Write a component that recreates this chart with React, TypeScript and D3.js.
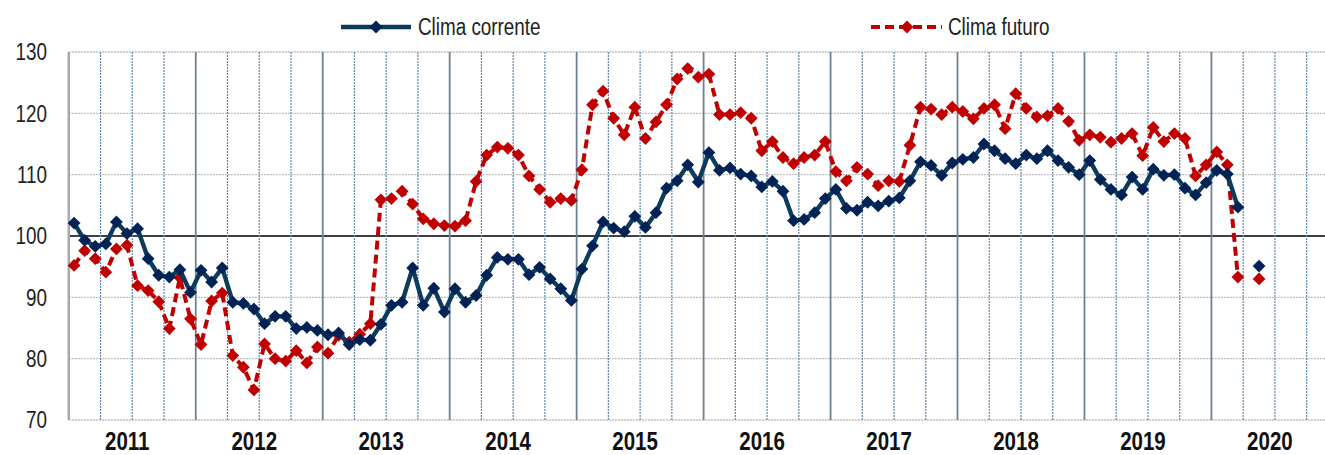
import React from "react";
import * as d3 from "d3";

const years = ["2011","2012","2013","2014","2015","2016","2017","2018","2019","2020"];
const yTicks = [70, 80, 90, 100, 110, 120, 130];
const seriesNames = ["Clima corrente", "Clima futuro"];

const climaCorrente: (number | null)[] = [
  102.1, 99.3, 98.3, 98.7, 102.3, 100.4, 101.2, 96.3, 93.6, 93.3, 94.5, 90.8,
  94.4, 92.5, 94.8, 89.2, 89.0, 88.1, 85.7, 86.9, 86.9, 84.9, 85.1, 84.6,
  83.9, 84.2, 82.3, 83.1, 83.0, 85.6, 88.7, 89.2, 94.8, 88.7, 91.5, 87.6,
  91.4, 89.2, 90.3, 93.6, 96.5, 96.2, 96.2, 93.7, 94.9, 93.0, 91.4, 89.5,
  94.6, 98.4, 102.3, 101.3, 100.7, 103.2, 101.4, 103.8, 107.8, 109.0, 111.6, 108.8,
  113.6, 110.7, 111.1, 110.1, 109.8, 108.0, 108.9, 107.3, 102.5, 102.7, 103.8, 106.1,
  107.6, 104.5, 104.2, 105.5, 104.9, 105.7, 106.2, 109.0, 112.1, 111.5, 109.9, 111.9,
  112.5, 112.8, 115.0, 113.9, 112.6, 111.8, 113.2, 112.6, 113.9, 112.3, 111.2, 110.0,
  112.3, 109.2, 107.6, 106.7, 109.6, 107.6, 110.9, 109.9, 110.0, 107.8, 106.7, 108.7,
  110.7, 110.1, 104.7, null, 95.1,
];

const climaFuturo: (number | null)[] = [
  95.2, 97.6, 96.3, 94.1, 97.9, 98.5, 91.9, 91.1, 89.3, 84.9, 93.2, 86.5,
  82.3, 89.4, 90.7, 80.5, 78.6, 74.9, 82.4, 80.0, 79.6, 81.3, 79.3, 81.9,
  80.9, 83.8, 82.7, 84.0, 85.7, 105.9, 106.1, 107.3, 105.2, 102.8, 102.0, 101.7,
  101.6, 102.5, 108.9, 113.2, 114.5, 114.3, 113.2, 109.8, 107.6, 105.5, 106.1, 105.8,
  110.8, 121.4, 123.6, 119.2, 116.5, 121.0, 115.9, 118.6, 121.4, 125.6, 127.3, 125.9,
  126.4, 119.8, 119.8, 120.1, 119.2, 113.9, 115.4, 112.8, 111.8, 112.8, 113.2, 115.4,
  110.5, 109.0, 111.2, 110.1, 108.2, 109.0, 108.9, 114.8, 121.0, 120.7, 119.8, 121.0,
  120.3, 119.1, 120.8, 121.4, 117.5, 123.2, 120.8, 119.4, 119.6, 120.8, 118.7, 115.6,
  116.5, 116.1, 115.3, 115.9, 116.7, 113.1, 117.7, 115.4, 116.7, 115.9, 109.8, 111.6,
  113.7, 111.6, 93.3, null, 93.0,
];

const W = 1325;
const H = 455;
const FONT = "'Liberation Sans', Arial, sans-serif";
const SX = 0.82; // narrow face look
const BLUE_LINE = "#0c3b5c";
const BLUE_MARK = "#002255";
const RED = "#c00000";

const diamond = (cx: number, cy: number, r: number) =>
  `M${cx},${cy - r}L${cx + r},${cy}L${cx},${cy + r}L${cx - r},${cy}Z`;

function NText(props: {
  x: number; y: number; anchor?: string; size: number; bold?: boolean; fill?: string; children: React.ReactNode;
}) {
  const { x, y, anchor = "start", size, bold, fill = "#222", children } = props;
  return (
    <text
      transform={`translate(${x},${y}) scale(${SX},1)`}
      textAnchor={anchor}
      fontFamily={FONT}
      fontSize={size}
      fontWeight={bold ? "bold" : "normal"}
      fill={fill}
    >
      {children}
    </text>
  );
}

export default function App() {
  const nMonths = years.length * 12;
  const x0 = 68.8;
  const monthW = 10.58;
  const x = d3.scaleLinear().domain([0, nMonths]).range([x0, x0 + nMonths * monthW]);
  const y = d3.scaleLinear().domain([70, 130]).range([420, 52]);
  const top = y(130);
  const bottom = y(70);

  const line = d3
    .line<number | null>()
    .defined((d) => d !== null)
    .x((_, i) => x(i + 0.5))
    .y((d) => y(d as number));

  const quarters = d3.range(0, nMonths / 3 + 1);

  const markers = (data: (number | null)[], fill: string) =>
    data.map((d, i) =>
      d === null ? null : <path key={i} d={diamond(x(i + 0.5), y(d), 6.4)} fill={fill} />
    );

  return (
    <svg width={W} height={H} style={{ position: "absolute", left: 0, top: 0, background: "#fff" }}>
      {/* horizontal grid */}
      {yTicks.map((t) => (
        <line
          key={"h" + t}
          x1={x0}
          x2={W}
          y1={y(t)}
          y2={y(t)}
          stroke={t === 100 ? "#000" : "#bcbcbc"}
          strokeWidth={t === 100 ? 1.6 : 1.3}
          strokeDasharray={t === 100 ? undefined : "2,1"}
        />
      ))}
      {/* vertical grid */}
      {quarters.map((q) => {
        const xx = x(q * 3);
        if (q === 0) return null;
        const isYear = q % 4 === 0;
        return (
          <line
            key={"v" + q}
            x1={xx}
            x2={xx}
            y1={top}
            y2={bottom}
            stroke={isYear ? "#6f8090" : "#5f87ab"}
            strokeWidth={isYear ? 1.8 : 1.2}
            strokeDasharray={isYear ? undefined : "2,1"}
          />
        );
      })}
      {/* left axis */}
      <line x1={x0} x2={x0} y1={top} y2={bottom} stroke="#a8a8a8" strokeWidth={2.5} />
      {/* y labels */}
      {yTicks.map((t) => (
        <NText key={"yl" + t} x={47} y={y(t) + 8.2} anchor="end" size={23}>
          {t}
        </NText>
      ))}
      {/* year labels */}
      {years.map((yr, i) => (
        <NText key={yr} x={x(i * 12 + 6) - 5} y={449.5} anchor="middle" size={25} bold fill="#111">
          {yr}
        </NText>
      ))}
      {/* series */}
      <path d={line(climaFuturo) || ""} fill="none" stroke={RED} strokeWidth={4} strokeDasharray="9,5" />
      {markers(climaFuturo, RED)}
      <path d={line(climaCorrente) || ""} fill="none" stroke={BLUE_LINE} strokeWidth={4.4} strokeLinejoin="round" />
      {markers(climaCorrente, BLUE_MARK)}
      {/* legend */}
      <line x1={341} x2={411} y1={27} y2={27} stroke={BLUE_LINE} strokeWidth={4.4} />
      <path d={diamond(376, 27, 6.4)} fill={BLUE_MARK} />
      <NText x={418} y={35} size={23}>
        {seriesNames[0]}
      </NText>
      <line x1={871} x2={942} y1={27} y2={27} stroke={RED} strokeWidth={4} strokeDasharray="9,5" />
      <path d={diamond(907, 27, 6.4)} fill={RED} />
      <NText x={948} y={35} size={23}>
        {seriesNames[1]}
      </NText>
    </svg>
  );
}
